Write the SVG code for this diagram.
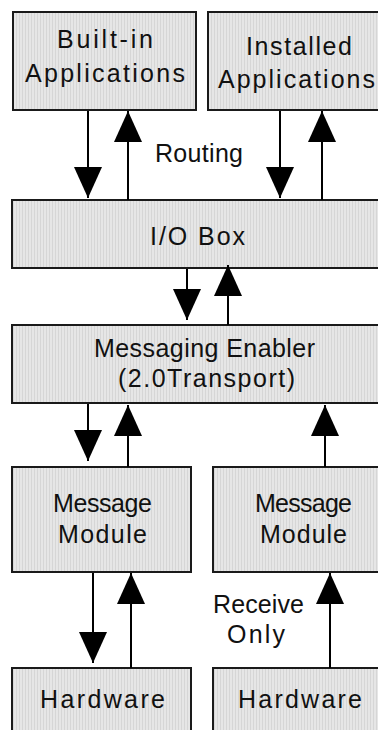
<svg xmlns="http://www.w3.org/2000/svg" width="378" height="730" viewBox="0 0 378 730">
  <defs>
    <!-- fine vertical striping used as the box fill -->
    <pattern id="stripe" width="3" height="4" patternUnits="userSpaceOnUse">
      <rect width="3" height="4" fill="#e6e6e6"/>
      <rect x="1" width="1" height="4" fill="#d6d6d6"/>
    </pattern>
    <marker id="head" markerUnits="userSpaceOnUse" markerWidth="31" markerHeight="28" refX="31" refY="14" orient="auto" viewBox="0 0 31 28">
      <path d="M0,0 L31,14 L0,28 Z" fill="#000"/>
    </marker>
    <style>
      .box { fill: url(#stripe); stroke: #1a1a1a; stroke-width: 2; }
      .lbl { font-family: "Liberation Sans", Arial, sans-serif; font-size: 25px; fill: #111; }
      .wire { stroke: #000; stroke-width: 2; fill: none; marker-end: url(#head); }
    </style>
  </defs>

  <rect width="378" height="730" fill="#fff"/>

  <g id="builtin-apps">
    <rect class="box" x="13" y="12" width="183" height="98"/>
    <text class="lbl" x="57" y="48" textLength="96" lengthAdjust="spacing">Built-in</text>
    <text class="lbl" x="25" y="82" textLength="160" lengthAdjust="spacing">Applications</text>
  </g>

  <g id="installed-apps">
    <rect class="box" x="208" y="12" width="185" height="98"/>
    <text class="lbl" x="246" y="55" textLength="106" lengthAdjust="spacing">Installed</text>
    <text class="lbl" x="218" y="88" textLength="157" lengthAdjust="spacing">Applications</text>
  </g>

  <g id="io-box">
    <rect class="box" x="12" y="200" width="385" height="68"/>
    <text class="lbl" x="150" y="245" textLength="95" lengthAdjust="spacing">I/O Box</text>
  </g>

  <g id="messaging-enabler">
    <rect class="box" x="12" y="325" width="385" height="78"/>
    <text class="lbl" x="94" y="357" textLength="221" lengthAdjust="spacing">Messaging Enabler</text>
    <text class="lbl" x="118" y="387" textLength="177" lengthAdjust="spacing">(2.0Transport)</text>
  </g>

  <g id="module-left">
    <rect class="box" x="12" y="467" width="179" height="105"/>
    <text class="lbl" x="53" y="512" textLength="99" lengthAdjust="spacing">Message</text>
    <text class="lbl" x="58" y="543" textLength="89" lengthAdjust="spacing">Module</text>
  </g>

  <g id="module-right">
    <rect class="box" x="213" y="467" width="185" height="105"/>
    <text class="lbl" x="255" y="512" textLength="97" lengthAdjust="spacing">Message</text>
    <text class="lbl" x="260" y="543" textLength="87" lengthAdjust="spacing">Module</text>
  </g>

  <g id="hardware-left">
    <rect class="box" x="12" y="668" width="179" height="80"/>
    <text class="lbl" x="40" y="708" textLength="125" lengthAdjust="spacing">Hardware</text>
  </g>

  <g id="hardware-right">
    <rect class="box" x="213" y="668" width="185" height="80"/>
    <text class="lbl" x="238" y="708" textLength="124" lengthAdjust="spacing">Hardware</text>
  </g>

  <g id="notes">
    <text class="lbl" x="155" y="162" textLength="88" lengthAdjust="spacing">Routing</text>
    <text class="lbl" x="213" y="613" textLength="91" lengthAdjust="spacing">Receive</text>
    <text class="lbl" x="227" y="643" textLength="58" lengthAdjust="spacing">Only</text>
  </g>

  <g id="connectors">
    <line class="wire" x1="88" y1="111" x2="88" y2="198"/>
    <line class="wire" x1="128" y1="200" x2="128" y2="111"/>
    <line class="wire" x1="280" y1="111" x2="280" y2="198"/>
    <line class="wire" x1="322" y1="200" x2="322" y2="111"/>

    <line class="wire" x1="187" y1="269" x2="187" y2="320"/>
    <line class="wire" x1="228" y1="325" x2="228" y2="265"/>

    <line class="wire" x1="88" y1="404" x2="88" y2="461"/>
    <line class="wire" x1="128" y1="467" x2="128" y2="405"/>
    <line class="wire" x1="325" y1="467" x2="325" y2="405"/>

    <line class="wire" x1="93" y1="573" x2="93" y2="663"/>
    <line class="wire" x1="131" y1="668" x2="131" y2="573"/>
    <line class="wire" x1="330" y1="668" x2="330" y2="573"/>
  </g>
</svg>
